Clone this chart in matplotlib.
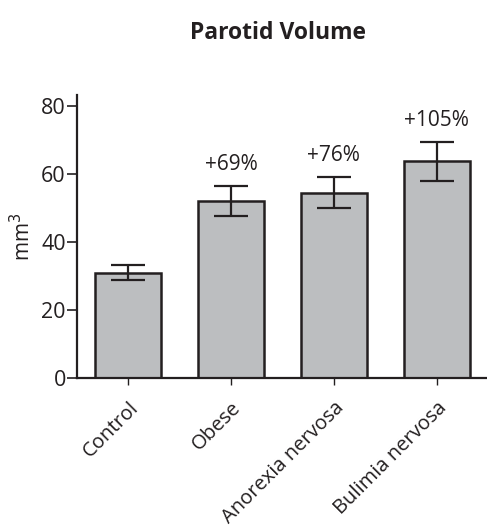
import numpy as np
import matplotlib
matplotlib.use('Agg')
import matplotlib.pyplot as plt

plt.rcParams['font.family'] = ['Open Sans', 'DejaVu Sans']

# data
groups = ['Control', 'Obese', 'Anorexia nervosa', 'Bulimia nervosa']
volume = [31.0, 52.0, 54.5, 63.7]
err = [2.1, 4.5, 4.5, 5.8]
change = ['', '+69%', '+76%', '+105%']

dark = '#231f20'
fig = plt.figure(figsize=(4.87, 5.31), dpi=100)
ax = fig.add_axes([0.158, 0.288, 0.842, 0.533])

x = np.arange(len(groups))
ax.bar(x, volume, width=0.64, color='#bcbec0', edgecolor=dark, linewidth=1.8,
       yerr=err, capsize=12, error_kw=dict(ecolor=dark, elinewidth=1.6, capthick=1.6))

for xi, v, e, s in zip(x, volume, err, change):
    if s:
        ax.annotate(s, (xi, v + e), xytext=(0, 8), textcoords='offset points',
                    ha='center', va='bottom', fontsize=15, color=dark)

ax.set_xlim(-0.5, 3.49)
ax.set_ylim(0, 83.2)
ax.set_yticks([0, 20, 40, 60, 80])
ax.set_xticks(x)
ax.set_xticklabels(groups, rotation=45, ha='right', rotation_mode='anchor', fontsize=14.5)
ax.tick_params(axis='y', labelsize=15.5, length=7, width=1.2, color=dark, labelcolor=dark, pad=1)
ax.tick_params(axis='x', length=5, width=1.0, color=dark, labelcolor=dark, pad=9)
for side in ['top', 'right']:
    ax.spines[side].set_visible(False)
for side in ['left', 'bottom']:
    ax.spines[side].set_linewidth(1.6)
    ax.spines[side].set_color(dark)

ax.set_ylabel('mm$^3$', fontsize=15, color=dark, labelpad=4)
fig.text(0.57, 0.938, 'Parotid Volume', ha='center', va='center',
         fontsize=16.5, fontweight='bold', color=dark)

plt.savefig('out.png', dpi=100)
